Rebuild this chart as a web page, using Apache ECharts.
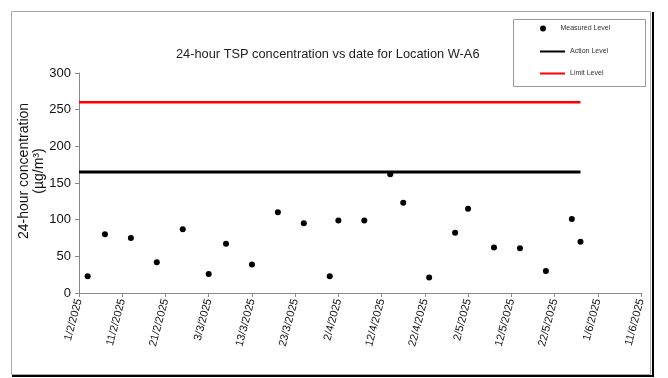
<!DOCTYPE html>
<html>
<head>
<meta charset="utf-8">
<script src="https://cdn.jsdelivr.net/npm/echarts@6/dist/echarts.min.js"></script>
<style>
  html, body { margin: 0; padding: 0; background: #fff; }
  #main { width: 668px; height: 378px; }
</style>
</head>
<body>
<div id="main"></div>
<script>
// sampling dates (d/m/yyyy) and measured 24-hour TSP values
const sampleDates = ['3/2/2025', '7/2/2025', '13/2/2025', '19/2/2025', '25/2/2025', '3/3/2025', '7/3/2025',
    '13/3/2025', '19/3/2025', '25/3/2025', '31/3/2025', '2/4/2025', '8/4/2025', '14/4/2025', '17/4/2025',
    '23/4/2025', '29/4/2025', '2/5/2025', '8/5/2025', '14/5/2025', '20/5/2025', '26/5/2025', '28/5/2025'];
const measured = [23, 80, 75, 42, 87, 26, 67, 39, 110, 95, 23, 99, 99, 162, 123, 21, 82, 115, 62, 61, 30, 101, 70];

// action / limit levels, drawn from first to last date
const levelDates = ['1/2/2025', '28/5/2025'];
const actionLevel = 165;
const limitLevel = 260;

// x axis range
const axisStart = '1/2/2025';
const axisEnd = '11/6/2025';
const dayStep = 10;

const DAY = 86400000;
function toUTC(s) {
    let p = s.split('/');
    return Date.UTC(+p[2], +p[1] - 1, +p[0]);
}
const base = toUTC(axisStart);
// days since start of axis
function dayNo(s) {
    return Math.round((toUTC(s) - base) / DAY);
}
function fmtDay(v) {
    let d = new Date(base + v * DAY);
    return d.getUTCDate() + '/' + (d.getUTCMonth() + 1) + '/' + d.getUTCFullYear();
}

let myChart = echarts.init(document.getElementById('main'));
let font = 'Liberation Sans, Arial, sans-serif';

let option = {
    animation: false,
    backgroundColor: '#fff',
    textStyle: { fontFamily: font },
    title: {
        text: '24-hour TSP concentration vs date for Location W-A6',
        left: 171,
        top: 43,
        textStyle: { fontSize: 12.8, fontWeight: 'normal', color: '#222', fontFamily: font }
    },
    grid: { left: 79, right: 27, top: 73, bottom: 85 },
    legend: [
        {
            data: [{ name: 'Measured Level', icon: 'circle' }],
            left: 540, top: 25, padding: 0,
            itemWidth: 25, itemHeight: 6,
            textStyle: { fontSize: 7, color: '#333', fontFamily: font }
        },
        {
            data: [{ name: 'Action Level', icon: 'rect' }],
            left: 540, top: 48, padding: 0,
            itemWidth: 25, itemHeight: 2,
            textStyle: { fontSize: 7, color: '#333', fontFamily: font }
        },
        {
            data: [{ name: 'Limit Level', icon: 'rect' }],
            left: 540, top: 70, padding: 0,
            itemWidth: 25, itemHeight: 2,
            textStyle: { fontSize: 7, color: '#333', fontFamily: font }
        }
    ],
    xAxis: {
        type: 'value',
        min: 0,
        max: dayNo(axisEnd),
        interval: dayStep,
        splitLine: { show: false },
        axisLine: { lineStyle: { color: '#888', width: 1 } },
        axisTick: { show: true, length: 4, lineStyle: { color: '#888' } },
        axisLabel: {
            rotate: 75,
            fontSize: 11,
            color: '#111',
            margin: 6,
            formatter: fmtDay
        }
    },
    yAxis: {
        type: 'value',
        min: 0,
        max: 300,
        interval: 50,
        name: '24-hour concentration\n(µg/m³)',
        nameLocation: 'middle',
        nameRotate: 90,
        nameGap: 32,
        nameMoveOverlap: false,
        nameTextStyle: { fontSize: 14, color: '#111', lineHeight: 15, padding: [0, 0, 0, 24] },
        splitLine: { show: false },
        axisLine: { show: true, lineStyle: { color: '#888', width: 1 } },
        axisTick: { show: true, length: 4, lineStyle: { color: '#888' } },
        axisLabel: { fontSize: 13, color: '#111', margin: 8 }
    },
    series: [
        {
            name: 'Limit Level',
            type: 'line',
            symbol: 'none',
            itemStyle: { color: '#ff0000' },
            lineStyle: { color: '#ff0000', width: 2.5 },
            data: levelDates.map(d => [dayNo(d), limitLevel])
        },
        {
            name: 'Action Level',
            type: 'line',
            symbol: 'none',
            itemStyle: { color: '#000' },
            lineStyle: { color: '#000', width: 3 },
            data: levelDates.map(d => [dayNo(d), actionLevel])
        },
        {
            name: 'Measured Level',
            type: 'scatter',
            symbolSize: 6,
            itemStyle: { color: '#000', opacity: 1 },
            z: 5,
            data: sampleDates.map((d, i) => [dayNo(d), measured[i]])
        }
    ],
    graphic: [
        // outer frame with dark shadow on right/bottom
        { type: 'rect', shape: { x: 11.5, y: 11.5, width: 639, height: 363 }, style: { fill: null, stroke: '#aaa', lineWidth: 1 }, silent: true },
        { type: 'line', shape: { x1: 653, y1: 12, x2: 653, y2: 377 }, style: { stroke: '#000', lineWidth: 2 }, silent: true },
        { type: 'line', shape: { x1: 12, y1: 376, x2: 654, y2: 376 }, style: { stroke: '#000', lineWidth: 2 }, silent: true },
        // legend box
        { type: 'rect', shape: { x: 513.5, y: 19.5, width: 132, height: 67 }, style: { fill: null, stroke: '#999', lineWidth: 1 }, silent: true }
    ]
};
myChart.setOption(option);
</script>
</body>
</html>
